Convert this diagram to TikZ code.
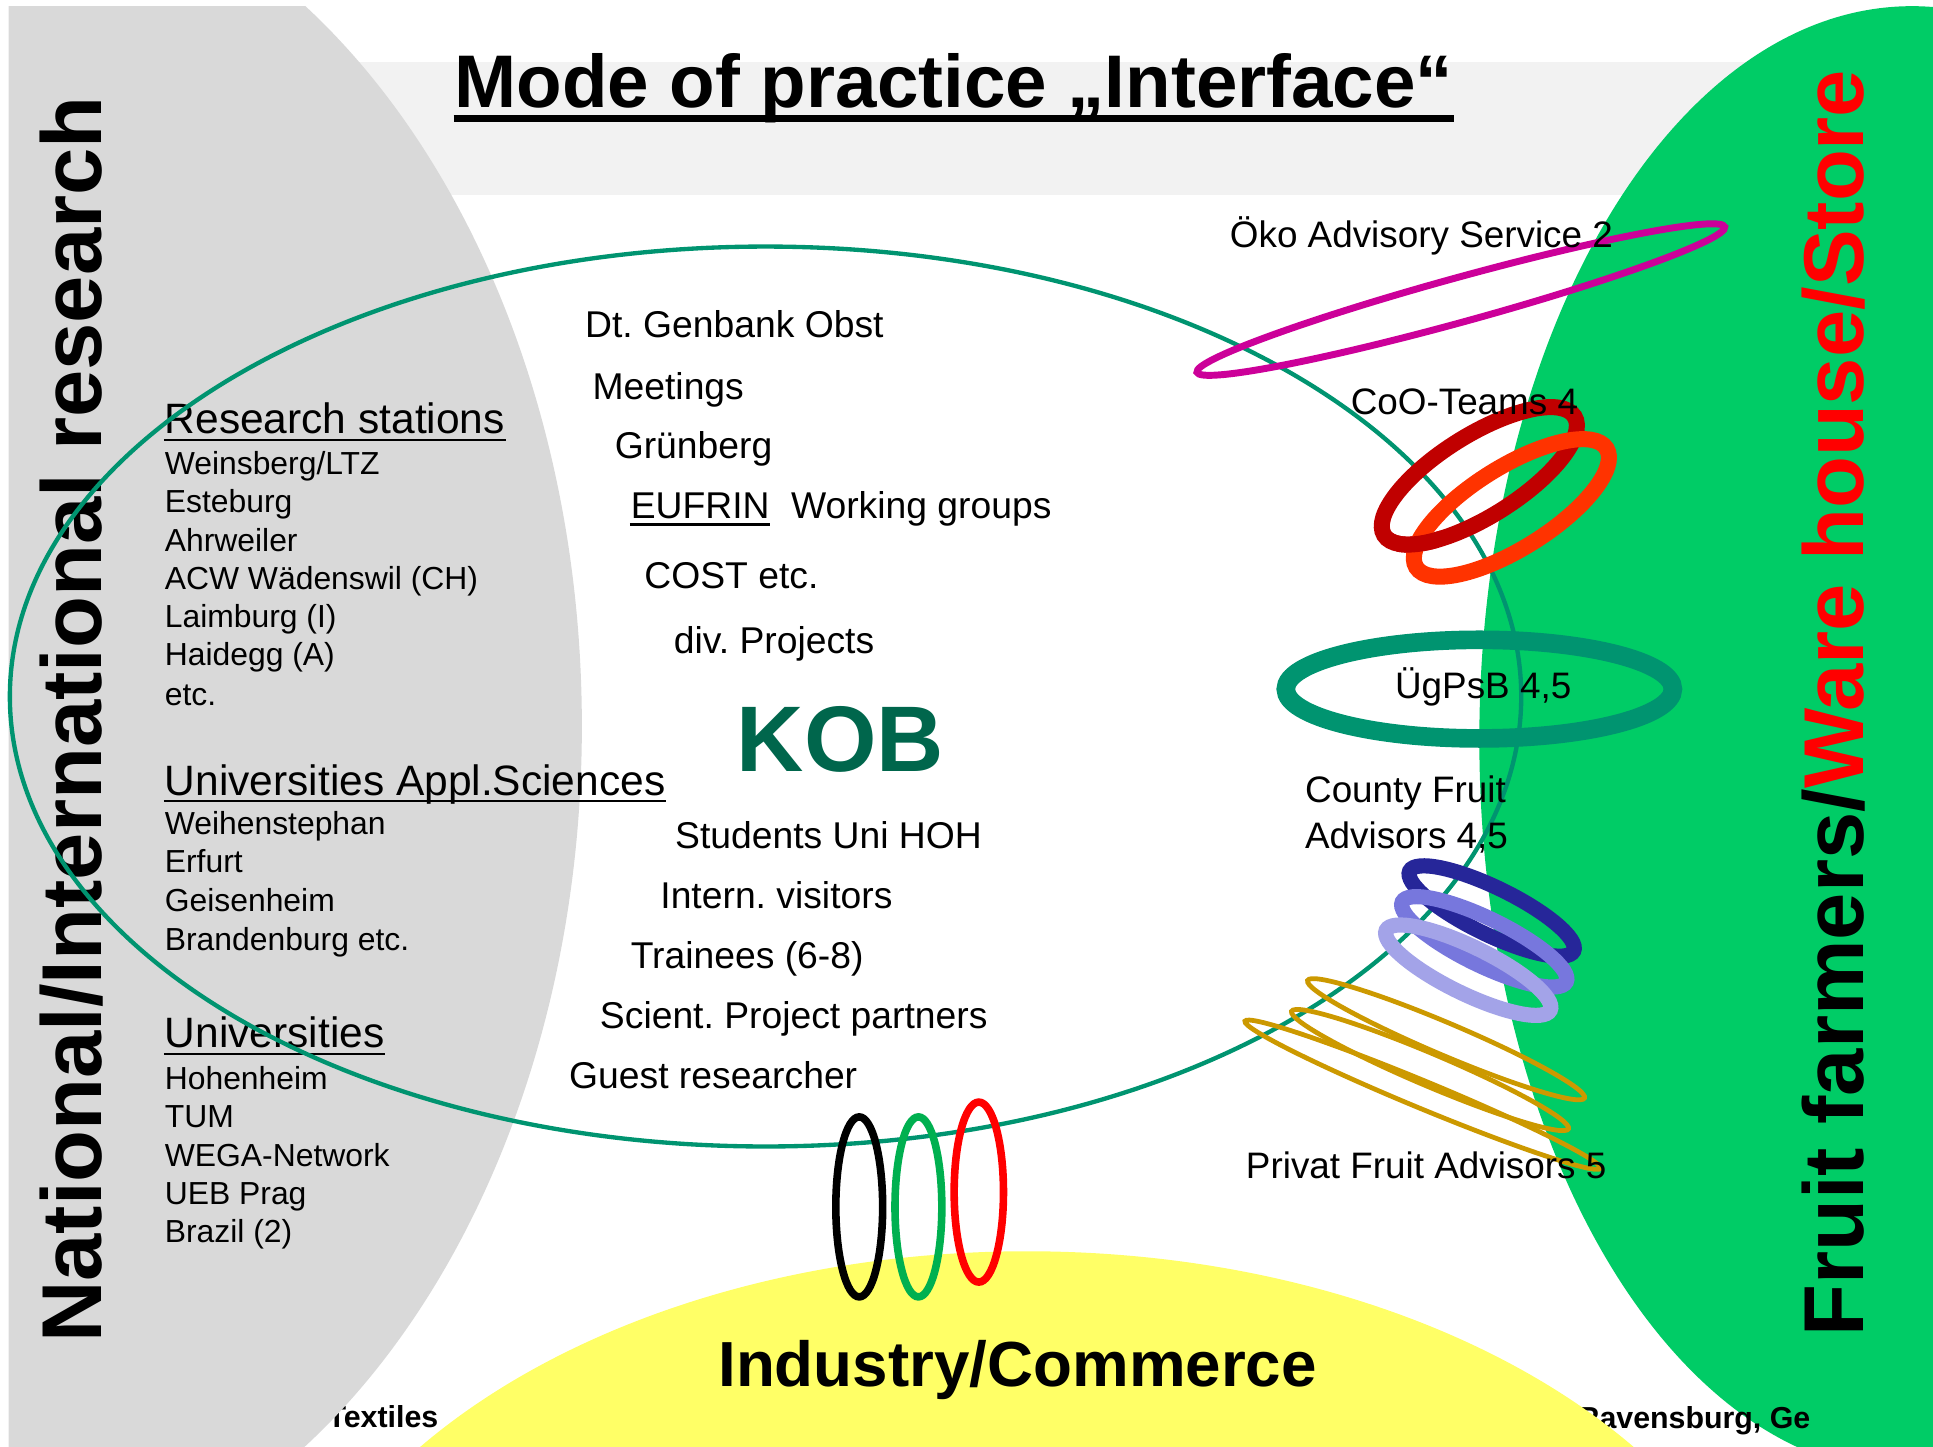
\documentclass[tikz,border=0pt]{standalone}
\usepackage{fontspec}
\setmainfont{Liberation Sans}
\usetikzlibrary{positioning}

\definecolor{bandgray}{RGB}{242,242,242}
\definecolor{resgray}{RGB}{217,217,217}
\definecolor{farmgreen}{RGB}{0,204,102}
\definecolor{induyellow}{RGB}{255,255,102}
\definecolor{kobteal}{RGB}{0,148,112}
\definecolor{kobgreen}{RGB}{0,102,76}
\definecolor{okomagenta}{RGB}{204,0,153}
\definecolor{coodark}{RGB}{192,0,0}
\definecolor{cooorange}{RGB}{255,51,0}
\definecolor{cfnavy}{RGB}{38,38,153}
\definecolor{cfblue}{RGB}{119,119,221}
\definecolor{cflight}{RGB}{163,163,232}
\definecolor{privgold}{RGB}{204,153,0}
\definecolor{indgreen}{RGB}{0,176,80}

\frenchspacing

\begin{document}
\begin{tikzpicture}[
  x=0.01cm, y=-0.01cm,
  every node/.style={inner sep=0pt, anchor=base west},
  head/.style={font=\fontsize{9.8}{11}\selectfont},
  item/.style={font=\fontsize{7.35}{9}\selectfont},
  mid/.style={font=\fontsize{8.6}{10}\selectfont},
  side/.style={font=\fontsize{8.5}{10}\selectfont},
  upright/.style={font=\bfseries\fontsize{19.6}{22}\selectfont, rotate=90},
  foot/.style={font=\bfseries\fontsize{7}{9}\selectfont},
  headline/.style={line width=0.55pt},
  okoring/.style={okomagenta, line width=1.6pt},
  cooring/.style={line width=3.7pt},
  cfring/.style={line width=3.5pt},
  privring/.style={privgold, line width=1.1pt},
  indring/.style={line width=1.75pt},
]
\useasboundingbox (0,0) rectangle (1568,1173);

  % Areas
  \node[foot] (textiles) at (265,1158) {Textiles};
  \begin{scope}
    \clip (7,5) rectangle (1568,1173);
    \fill[bandgray] (7,50) rectangle (1568,158);
    \fill[resgray]   (-28,589) ellipse [x radius=500, y radius=700];
    \fill[farmgreen] (1551,600) ellipse [x radius=351, y radius=595];
    \begin{scope}
      \clip (1200,1100) rectangle (1471,1173);
      \node[foot] (ravens) at (1279,1159) {Ravensburg, Ge};
    \end{scope}
    \fill[induyellow] (833,1415) ellipse [x radius=617, y radius=400];
  \end{scope}

  % Titles
  \node[font=\bfseries\fontsize{17.2}{20}\selectfont] (title) at (368,87) {Mode of practice „Interface“};
  \draw[line width=1.6pt] ([yshift=-2.5pt]title.base west) -- ([yshift=-2.5pt]title.base east);
  \node[upright] (natres) at (82,1090) {National/International research};
  \node[upright] (farms)  at (1512,1085) {Fruit farmers/\textcolor{red}{Ware house/Store}};
  \node[font=\bfseries\fontsize{14.7}{17}\selectfont] (industry) at (582,1125) {Industry/Commerce};

  % Research side
  \node[head] (rs)  at (133,352) {Research stations};
  \node[item] (rs1) at (133,385) {Weinsberg/LTZ};
  \node[item] (rs2) at (133,416) {Esteburg};
  \node[item] (rs3) at (133,447) {Ahrweiler};
  \node[item] (rs4) at (133,478) {ACW Wädenswil (CH)};
  \node[item] (rs5) at (133,509) {Laimburg (I)};
  \node[item] (rs6) at (133,540) {Haidegg (A)};
  \node[item] (rs7) at (133,572) {etc.};

  \node[head] (ua)  at (133,645) {Universities Appl.Sciences};
  \node[item] (ua1) at (133,677) {Weihenstephan};
  \node[item] (ua2) at (133,708) {Erfurt};
  \node[item] (ua3) at (133,739) {Geisenheim};
  \node[item] (ua4) at (133,771) {Brandenburg etc.};

  \node[head] (uni)  at (133,850) {Universities};
  \node[item] (uni1) at (133,884) {Hohenheim};
  \node[item] (uni2) at (133,915) {TUM};
  \node[item] (uni3) at (133,946) {WEGA-Network};
  \node[item] (uni4) at (133,977) {UEB Prag};
  \node[item] (uni5) at (133,1008) {Brazil (2)};

  \draw[headline] ([yshift=-1.4pt]rs.base west) -- ([yshift=-1.4pt]rs.base east);
  \draw[headline] ([yshift=-1.4pt]ua.base west) -- ([yshift=-1.4pt]ua.base east);
  \draw[headline] ([yshift=-1.4pt]uni.base west) -- ([yshift=-1.4pt]uni.base east);

  % KOB
  \node[mid] (genbank)  at (474,274) {Dt. Genbank Obst};
  \node[mid] (meetings) at (480,324) {Meetings};
  \node[mid] (gruen)    at (498,372) {Grünberg};
  \node[mid] (eufrin)   at (511,421) {EUFRIN};
  \node[mid] (wgroups)  at (641,421) {Working groups};
  \node[mid] (cost)     at (522,477) {COST etc.};
  \node[mid] (projects) at (546,530) {div. Projects};
  \node[font=\bfseries\fontsize{21.5}{24}\selectfont, text=kobgreen] (kob) at (597,626) {KOB};
  \node[mid] (students) at (547,688) {Students Uni HOH};
  \node[mid] (visitors) at (535,737) {Intern. visitors};
  \node[mid] (trainees) at (511,786) {Trainees (6-8)};
  \node[mid] (partners) at (486,834) {Scient. Project partners};
  \node[mid] (guests)   at (461,883) {Guest researcher};
  \draw[headline] ([yshift=-1.3pt]eufrin.base west) -- ([yshift=-1.3pt]eufrin.base east);

  \draw[kobteal, line width=1pt] (621,565) ellipse [x radius=613, y radius=365];

  % Rings
  \draw[okoring] (1185,243) ellipse [x radius=222, y radius=18, rotate=15.4];
  \draw[cooring, coodark]   (1200,386) ellipse [x radius=91, y radius=33, rotate=32];
  \draw[cooring, cooorange] (1226,412) ellipse [x radius=91, y radius=33, rotate=32];
  \begin{scope}
    \clip (1149,436) circle (20);
    \draw[cooring, coodark] (1200,386) ellipse [x radius=91, y radius=33, rotate=32];
  \end{scope}
  \draw[kobteal, line width=4.3pt] (1200,559) ellipse [x radius=157, y radius=40];
  \draw[cfring, cfnavy]  (1210,739) ellipse [x radius=74, y radius=19, rotate=-26];
  \draw[cfring, cfblue]  (1204,764) ellipse [x radius=74, y radius=19, rotate=-26];
  \draw[cfring, cflight] (1191,787) ellipse [x radius=74, y radius=19, rotate=-26];
  \draw[privring] (1173,843) ellipse [x radius=122, y radius=13, rotate=-23];
  \draw[privring] (1160,868) ellipse [x radius=122, y radius=13, rotate=-23];
  \draw[privring] (1154,888) ellipse [x radius=156, y radius=11, rotate=-22.5];
  \draw[indring, black]     (697,979) ellipse [x radius=19, y radius=73];
  \draw[indring, indgreen]  (745,979) ellipse [x radius=19, y radius=73];
  \draw[indring, red]       (794,967) ellipse [x radius=20, y radius=73];

  % Advisory
  \node[side] (oko)  at (997,201)  {Öko Advisory Service 2};
  \node[side] (coo)  at (1095,336) {CoO-Teams 4};
  \node[side] (ugp)  at (1131,567) {ÜgPsB 4,5};
  \node[side] (cfa)  at (1058,651) {County Fruit};
  \node[side] (cfb)  at (1058,688) {Advisors 4,5};
  \node[side] (pfa)  at (1010,956) {Privat Fruit Advisors 5};
\end{tikzpicture}
\end{document}
